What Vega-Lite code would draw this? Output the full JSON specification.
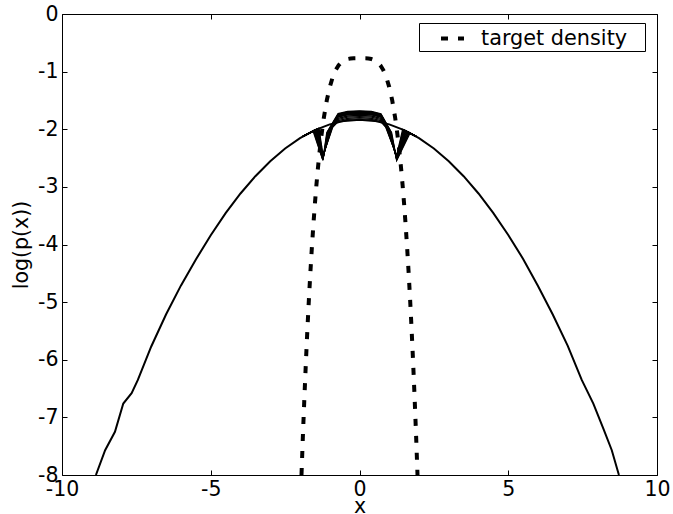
{
  "$schema": "https://vega.github.io/schema/vega-lite/v6.json",
  "width": 595,
  "height": 461,
  "autosize": {"type": "none"},
  "padding": {"left": 62, "top": 14, "right": 16, "bottom": 39},
  "background": "white",
  "config": {
    "view": {"stroke": null},
    "font": "DejaVu Sans",
    "axis": {
      "grid": false,
      "domainColor": "black",
      "domainWidth": 1,
      "tickColor": "black",
      "tickWidth": 1,
      "tickSize": -5,
      "labelFont": "DejaVu Sans",
      "labelFontSize": 20.5,
      "labelColor": "black",
      "labelFlush": false,
      "labelOverlap": false,
      "titleFont": "DejaVu Sans",
      "titleFontSize": 20.5,
      "titleFontWeight": "normal",
      "titleColor": "black"
    }
  },
  "datasets": {
    "wide": [
      {"x": -8.86, "y": -8.0}, {"x": -8.55, "y": -7.57}, {"x": -8.22, "y": -7.25},
      {"x": -7.94, "y": -6.76}, {"x": -7.66, "y": -6.58}, {"x": -7.45, "y": -6.35},
      {"x": -7.0, "y": -5.77}, {"x": -6.5, "y": -5.21}, {"x": -6.0, "y": -4.71},
      {"x": -5.5, "y": -4.26}, {"x": -5.0, "y": -3.84}, {"x": -4.5, "y": -3.455},
      {"x": -4.0, "y": -3.115}, {"x": -3.5, "y": -2.815}, {"x": -3.0, "y": -2.555},
      {"x": -2.5, "y": -2.335}, {"x": -2.0, "y": -2.155}, {"x": -1.5, "y": -2.015},
      {"x": -1.0, "y": -1.915}, {"x": -0.5, "y": -1.855}, {"x": 0.0, "y": -1.835},
      {"x": 0.5, "y": -1.855}, {"x": 1.0, "y": -1.915}, {"x": 1.5, "y": -2.015},
      {"x": 2.0, "y": -2.155}, {"x": 2.5, "y": -2.335}, {"x": 3.0, "y": -2.555},
      {"x": 3.5, "y": -2.815}, {"x": 4.0, "y": -3.115}, {"x": 4.5, "y": -3.455},
      {"x": 5.0, "y": -3.835}, {"x": 5.5, "y": -4.25}, {"x": 6.0, "y": -4.72},
      {"x": 6.5, "y": -5.22}, {"x": 7.0, "y": -5.76}, {"x": 7.47, "y": -6.35},
      {"x": 7.86, "y": -6.76}, {"x": 8.2, "y": -7.2}, {"x": 8.48, "y": -7.57},
      {"x": 8.72, "y": -8.0}
    ],
    "iterates": [
      {"c": 0, "x": -1.9, "y": -2.124}, {"c": 0, "x": -1.56, "y": -2.03}, {"c": 0, "x": -1.23, "y": -2.54}, {"c": 0, "x": -1.1, "y": -2.06}, {"c": 0, "x": -0.72, "y": -1.73}, {"c": 0, "x": -0.4, "y": -1.69}, {"c": 0, "x": 0, "y": -1.68}, {"c": 0, "x": 0.4, "y": -1.69}, {"c": 0, "x": 0.72, "y": -1.73}, {"c": 0, "x": 1.08, "y": -2.06}, {"c": 0, "x": 1.25, "y": -2.54}, {"c": 0, "x": 1.7, "y": -2.066}, {"c": 0, "x": 1.9, "y": -2.124},
      {"c": 1, "x": -1.9, "y": -2.124}, {"c": 1, "x": -1.542, "y": -2.025}, {"c": 1, "x": -1.23, "y": -2.533}, {"c": 1, "x": -1.082, "y": -2.051}, {"c": 1, "x": -0.72, "y": -1.74}, {"c": 1, "x": -0.4, "y": -1.7}, {"c": 1, "x": 0, "y": -1.69}, {"c": 1, "x": 0.4, "y": -1.7}, {"c": 1, "x": 0.72, "y": -1.74}, {"c": 1, "x": 1.062, "y": -2.051}, {"c": 1, "x": 1.25, "y": -2.533}, {"c": 1, "x": 1.677, "y": -2.06}, {"c": 1, "x": 1.9, "y": -2.124},
      {"c": 2, "x": -1.9, "y": -2.124}, {"c": 2, "x": -1.524, "y": -2.021}, {"c": 2, "x": -1.23, "y": -2.525}, {"c": 2, "x": -1.064, "y": -2.042}, {"c": 2, "x": -0.72, "y": -1.75}, {"c": 2, "x": -0.4, "y": -1.71}, {"c": 2, "x": 0, "y": -1.7}, {"c": 2, "x": 0.4, "y": -1.71}, {"c": 2, "x": 0.72, "y": -1.75}, {"c": 2, "x": 1.044, "y": -2.042}, {"c": 2, "x": 1.25, "y": -2.525}, {"c": 2, "x": 1.655, "y": -2.054}, {"c": 2, "x": 1.9, "y": -2.124},
      {"c": 3, "x": -1.9, "y": -2.124}, {"c": 3, "x": -1.505, "y": -2.016}, {"c": 3, "x": -1.23, "y": -2.518}, {"c": 3, "x": -1.045, "y": -2.033}, {"c": 3, "x": -0.72, "y": -1.755}, {"c": 3, "x": -0.4, "y": -1.712}, {"c": 3, "x": 0, "y": -1.705}, {"c": 3, "x": 0.4, "y": -1.712}, {"c": 3, "x": 0.72, "y": -1.755}, {"c": 3, "x": 1.025, "y": -2.033}, {"c": 3, "x": 1.25, "y": -2.518}, {"c": 3, "x": 1.632, "y": -2.048}, {"c": 3, "x": 1.9, "y": -2.124},
      {"c": 4, "x": -1.9, "y": -2.124}, {"c": 4, "x": -1.487, "y": -2.012}, {"c": 4, "x": -1.23, "y": -2.511}, {"c": 4, "x": -1.027, "y": -2.024}, {"c": 4, "x": -0.72, "y": -1.76}, {"c": 4, "x": -0.4, "y": -1.72}, {"c": 4, "x": 0, "y": -1.71}, {"c": 4, "x": 0.4, "y": -1.72}, {"c": 4, "x": 0.72, "y": -1.76}, {"c": 4, "x": 1.007, "y": -2.024}, {"c": 4, "x": 1.25, "y": -2.511}, {"c": 4, "x": 1.609, "y": -2.042}, {"c": 4, "x": 1.9, "y": -2.124},
      {"c": 5, "x": -1.9, "y": -2.124}, {"c": 5, "x": -1.469, "y": -2.008}, {"c": 5, "x": -1.23, "y": -2.504}, {"c": 5, "x": -1.009, "y": -2.015}, {"c": 5, "x": -0.72, "y": -1.77}, {"c": 5, "x": -0.4, "y": -1.73}, {"c": 5, "x": 0, "y": -1.72}, {"c": 5, "x": 0.4, "y": -1.73}, {"c": 5, "x": 0.72, "y": -1.77}, {"c": 5, "x": 0.989, "y": -2.015}, {"c": 5, "x": 1.25, "y": -2.504}, {"c": 5, "x": 1.586, "y": -2.036}, {"c": 5, "x": 1.9, "y": -2.124},
      {"c": 6, "x": -1.9, "y": -2.124}, {"c": 6, "x": -1.451, "y": -2.003}, {"c": 6, "x": -1.23, "y": -2.496}, {"c": 6, "x": -0.991, "y": -2.005}, {"c": 6, "x": -0.72, "y": -1.78}, {"c": 6, "x": -0.4, "y": -1.74}, {"c": 6, "x": 0, "y": -1.73}, {"c": 6, "x": 0.4, "y": -1.74}, {"c": 6, "x": 0.72, "y": -1.78}, {"c": 6, "x": 0.971, "y": -2.005}, {"c": 6, "x": 1.25, "y": -2.496}, {"c": 6, "x": 1.564, "y": -2.031}, {"c": 6, "x": 1.9, "y": -2.124},
      {"c": 7, "x": -1.9, "y": -2.124}, {"c": 7, "x": -1.433, "y": -1.999}, {"c": 7, "x": -1.23, "y": -2.489}, {"c": 7, "x": -0.973, "y": -1.996}, {"c": 7, "x": -0.72, "y": -1.79}, {"c": 7, "x": -0.4, "y": -1.75}, {"c": 7, "x": 0, "y": -1.74}, {"c": 7, "x": 0.4, "y": -1.75}, {"c": 7, "x": 0.72, "y": -1.79}, {"c": 7, "x": 0.953, "y": -1.996}, {"c": 7, "x": 1.25, "y": -2.489}, {"c": 7, "x": 1.541, "y": -2.025}, {"c": 7, "x": 1.9, "y": -2.124},
      {"c": 8, "x": -1.9, "y": -2.124}, {"c": 8, "x": -1.415, "y": -1.995}, {"c": 8, "x": -1.23, "y": -2.482}, {"c": 8, "x": -0.955, "y": -1.987}, {"c": 8, "x": -0.72, "y": -1.81}, {"c": 8, "x": -0.4, "y": -1.77}, {"c": 8, "x": 0, "y": -1.76}, {"c": 8, "x": 0.4, "y": -1.77}, {"c": 8, "x": 0.72, "y": -1.81}, {"c": 8, "x": 0.935, "y": -1.987}, {"c": 8, "x": 1.25, "y": -2.482}, {"c": 8, "x": 1.518, "y": -2.019}, {"c": 8, "x": 1.9, "y": -2.124},
      {"c": 9, "x": -1.9, "y": -2.124}, {"c": 9, "x": -1.396, "y": -1.991}, {"c": 9, "x": -1.23, "y": -2.475}, {"c": 9, "x": -0.936, "y": -1.978}, {"c": 9, "x": -0.72, "y": -1.83}, {"c": 9, "x": -0.4, "y": -1.79}, {"c": 9, "x": 0, "y": -1.78}, {"c": 9, "x": 0.4, "y": -1.79}, {"c": 9, "x": 0.72, "y": -1.83}, {"c": 9, "x": 0.916, "y": -1.978}, {"c": 9, "x": 1.25, "y": -2.475}, {"c": 9, "x": 1.495, "y": -2.014}, {"c": 9, "x": 1.9, "y": -2.124},
      {"c": 10, "x": -1.9, "y": -2.124}, {"c": 10, "x": -1.378, "y": -1.987}, {"c": 10, "x": -1.23, "y": -2.467}, {"c": 10, "x": -0.918, "y": -1.969}, {"c": 10, "x": -0.72, "y": -1.85}, {"c": 10, "x": -0.4, "y": -1.81}, {"c": 10, "x": 0, "y": -1.8}, {"c": 10, "x": 0.4, "y": -1.81}, {"c": 10, "x": 0.72, "y": -1.85}, {"c": 10, "x": 0.898, "y": -1.969}, {"c": 10, "x": 1.25, "y": -2.467}, {"c": 10, "x": 1.473, "y": -2.009}, {"c": 10, "x": 1.9, "y": -2.124},
      {"c": 11, "x": -1.9, "y": -2.124}, {"c": 11, "x": -1.36, "y": -1.983}, {"c": 11, "x": -1.23, "y": -2.46}, {"c": 11, "x": -0.9, "y": -1.96}, {"c": 11, "x": -0.72, "y": -1.87}, {"c": 11, "x": -0.4, "y": -1.83}, {"c": 11, "x": 0, "y": -1.82}, {"c": 11, "x": 0.4, "y": -1.83}, {"c": 11, "x": 0.72, "y": -1.87}, {"c": 11, "x": 0.88, "y": -1.96}, {"c": 11, "x": 1.25, "y": -2.46}, {"c": 11, "x": 1.45, "y": -2.003}, {"c": 11, "x": 1.9, "y": -2.124}
    ],
    "target": [
      {"x": -1.95, "y": -8.0}, {"x": -1.9, "y": -7.284}, {"x": -1.85, "y": -6.625}, {"x": -1.8, "y": -6.017},
      {"x": -1.75, "y": -5.457}, {"x": -1.7, "y": -4.944}, {"x": -1.65, "y": -4.474}, {"x": -1.6, "y": -4.045},
      {"x": -1.55, "y": -3.654}, {"x": -1.5, "y": -3.299}, {"x": -1.45, "y": -2.978}, {"x": -1.4, "y": -2.689},
      {"x": -1.35, "y": -2.429}, {"x": -1.3, "y": -2.196}, {"x": -1.25, "y": -1.989}, {"x": -1.2, "y": -1.805},
      {"x": -1.1, "y": -1.5}, {"x": -1.0, "y": -1.268}, {"x": -0.9, "y": -1.096}, {"x": -0.8, "y": -0.973},
      {"x": -0.7, "y": -0.888}, {"x": -0.6, "y": -0.833}, {"x": -0.5, "y": -0.799}, {"x": -0.4, "y": -0.781},
      {"x": -0.3, "y": -0.772}, {"x": -0.2, "y": -0.769}, {"x": -0.1, "y": -0.768}, {"x": 0.0, "y": -0.768},
      {"x": 0.1, "y": -0.768}, {"x": 0.2, "y": -0.769}, {"x": 0.3, "y": -0.772}, {"x": 0.4, "y": -0.781},
      {"x": 0.5, "y": -0.799}, {"x": 0.6, "y": -0.833}, {"x": 0.7, "y": -0.888}, {"x": 0.8, "y": -0.973},
      {"x": 0.9, "y": -1.096}, {"x": 1.0, "y": -1.268}, {"x": 1.1, "y": -1.5}, {"x": 1.2, "y": -1.805},
      {"x": 1.25, "y": -1.989}, {"x": 1.3, "y": -2.196}, {"x": 1.35, "y": -2.429}, {"x": 1.4, "y": -2.689},
      {"x": 1.45, "y": -2.978}, {"x": 1.5, "y": -3.299}, {"x": 1.55, "y": -3.654}, {"x": 1.6, "y": -4.045},
      {"x": 1.65, "y": -4.474}, {"x": 1.7, "y": -4.944}, {"x": 1.75, "y": -5.457}, {"x": 1.8, "y": -6.017},
      {"x": 1.85, "y": -6.625}, {"x": 1.9, "y": -7.284}, {"x": 1.95, "y": -8.0}
    ]
  },
  "layer": [
    {
      "data": {"name": "wide"},
      "mark": {"type": "line", "color": "black", "strokeWidth": 2, "clip": true},
      "encoding": {
        "x": {
          "field": "x", "type": "quantitative",
          "scale": {"domain": [-10, 10], "nice": false, "zero": false},
          "axis": {"orient": "bottom", "values": [-10, -5, 0, 5, 10], "labelExpr": "'' + datum.value", "labelPadding": 9, "title": "x", "titlePadding": -3}
        },
        "y": {
          "field": "y", "type": "quantitative",
          "scale": {"domain": [-8, 0], "nice": false, "zero": false},
          "axis": {"orient": "left", "values": [0, -1, -2, -3, -4, -5, -6, -7, -8], "labelExpr": "'' + datum.value", "labelPadding": 9, "title": "log(p(x))", "titlePadding": 6}
        }
      }
    },
    {
      "data": {"name": "iterates"},
      "mark": {"type": "line", "color": "black", "strokeWidth": 1.3, "clip": true},
      "encoding": {
        "x": {"field": "x", "type": "quantitative", "axis": null},
        "y": {"field": "y", "type": "quantitative", "axis": null},
        "detail": {"field": "c", "type": "nominal"}
      }
    },
    {
      "data": {"name": "target"},
      "transform": [{"calculate": "'target density'", "as": "series"}],
      "mark": {"type": "line", "color": "black", "strokeWidth": 4, "strokeCap": "butt", "clip": true},
      "encoding": {
        "x": {
          "field": "x", "type": "quantitative",
          "axis": {"orient": "top", "values": [-10, -5, 0, 5, 10], "labels": false, "title": null}
        },
        "y": {
          "field": "y", "type": "quantitative",
          "axis": {"orient": "right", "values": [0, -1, -2, -3, -4, -5, -6, -7, -8], "labels": false, "title": null}
        },
        "strokeDash": {
          "field": "series", "type": "nominal",
          "scale": {"domain": ["target density"], "range": [[7, 10]]},
          "legend": {
            "orient": "none", "legendX": 357, "legendY": 9,
            "title": "\u00a0", "titleOrient": "right", "titlePadding": 16,
            "titleFontSize": 20.8, "titleFont": "DejaVu Sans",
            "strokeColor": "black", "fillColor": "white", "cornerRadius": 0,
            "padding": 2,
            "symbolType": "stroke", "symbolSize": 529, "symbolStrokeWidth": 4,
            "symbolStrokeColor": "black", "symbolDash": [7, 10], "symbolOffset": 18,
            "labelFont": "DejaVu Sans", "labelFontSize": 20.8, "labelColor": "black",
            "labelOffset": 15, "labelLimit": 300
          }
        }
      }
    }
  ],
  "resolve": {"axis": {"x": "independent", "y": "independent"}}
}
